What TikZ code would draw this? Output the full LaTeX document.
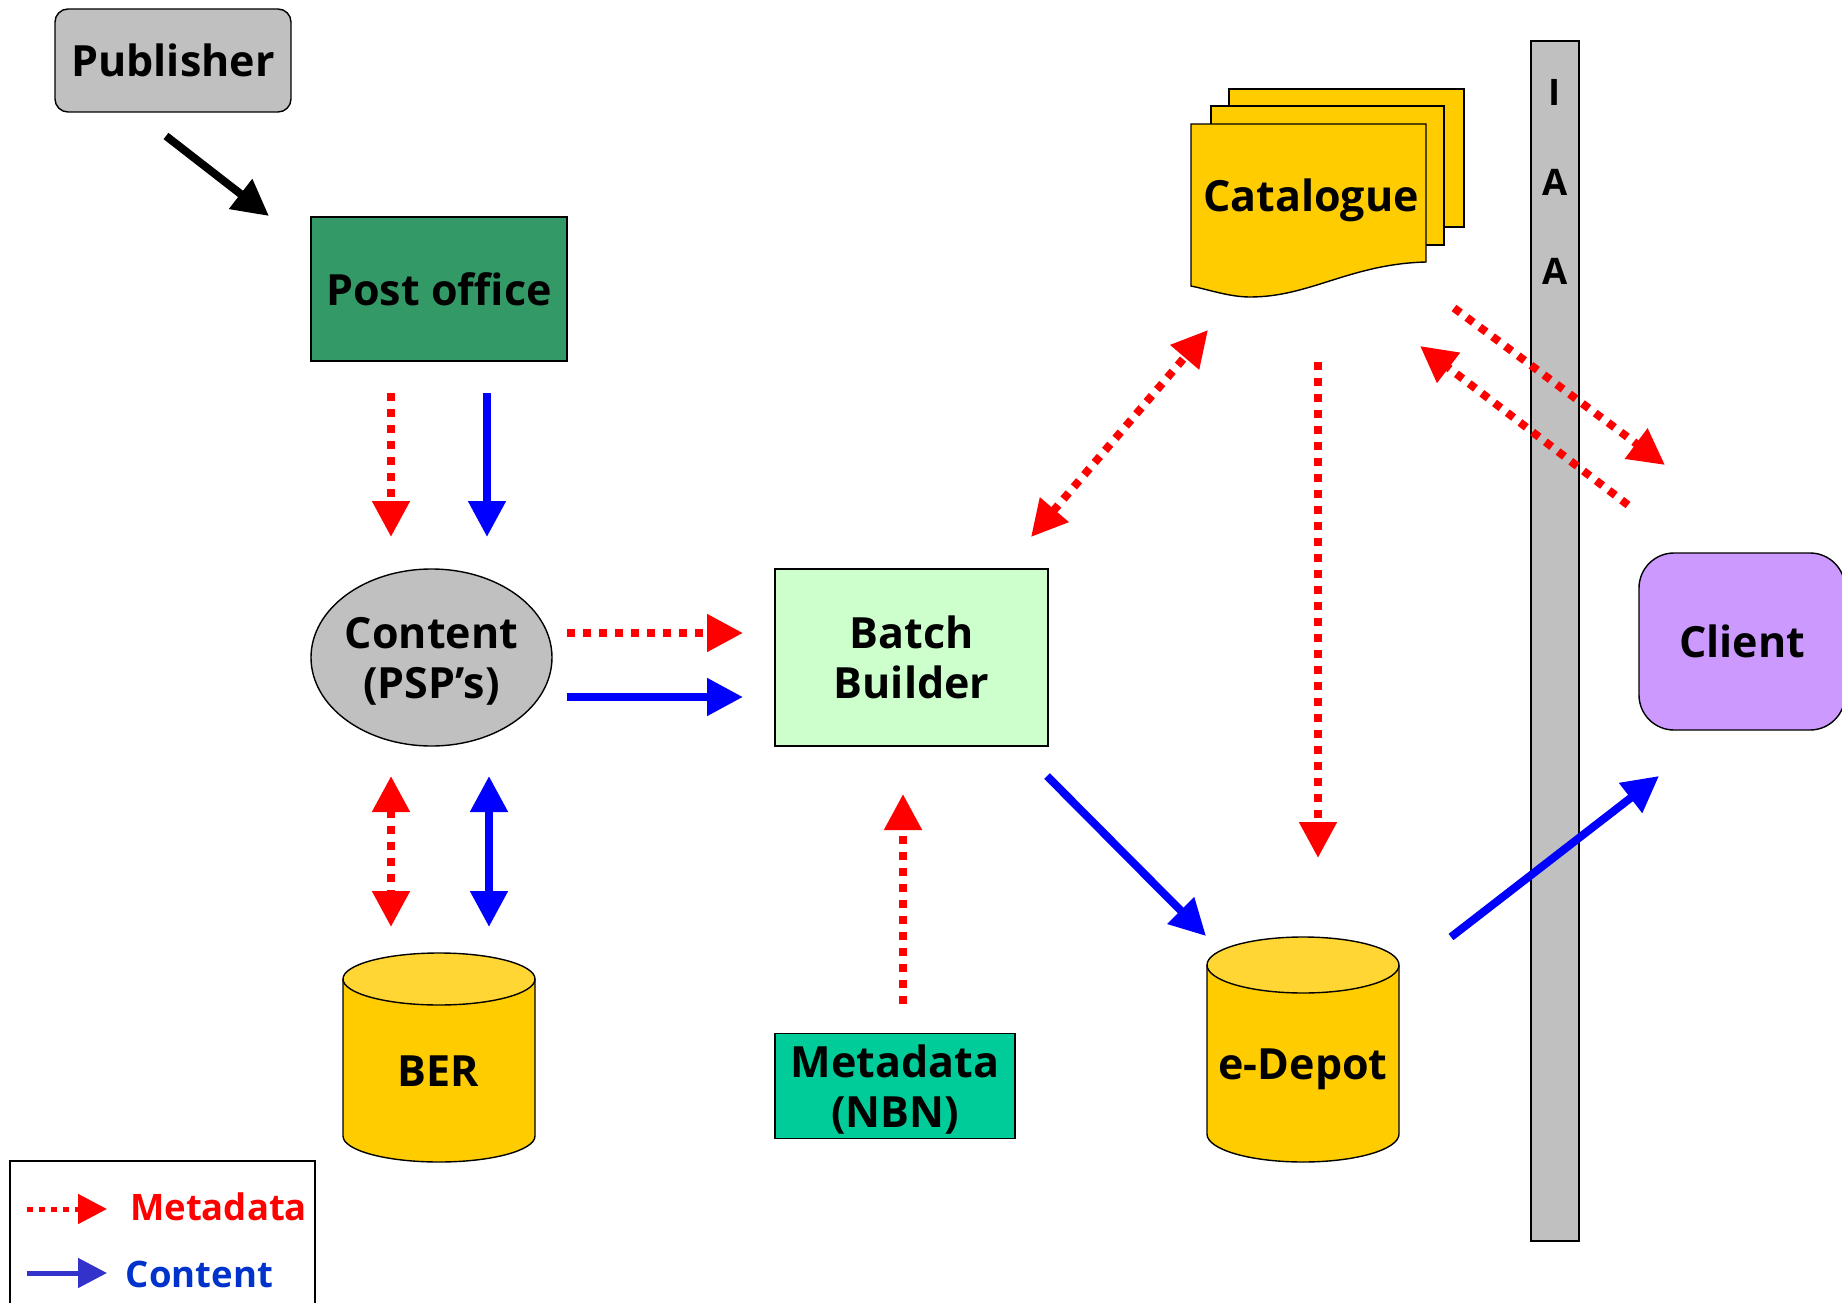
\documentclass[tikz,border=0pt]{standalone}
\usepackage{fontspec}
\setmainfont{Open Sans}
\usetikzlibrary{arrows.meta,shapes.geometric}
\definecolor{pubgrey}{HTML}{C0C0C0}
\definecolor{postgreen}{HTML}{339966}
\definecolor{batchgreen}{HTML}{CCFFCC}
\definecolor{nbngreen}{HTML}{00CC99}
\definecolor{clientpurple}{HTML}{CC99FF}
\definecolor{storeyellow}{HTML}{FFCC00}
\definecolor{storetop}{HTML}{FFD633}
\tikzset{
  lbl/.style={font=\fontsize{43}{50}\selectfont\bfseries,align=center,inner sep=0pt,text=black},
  smalllbl/.style={lbl,font=\fontsize{36.5}{40}\selectfont\bfseries},
  block/.style={lbl,draw=black,line width=1.4pt},
  page/.style={draw=black,line width=1.4pt,fill=storeyellow},
  tip/.style={>={Triangle[length=36pt,width=36pt]}},
  metaflow/.style={tip,draw=red,line width=8pt,dash pattern=on 8pt off 8pt},
  contentflow/.style={tip,draw=blue,line width=8pt},
  pushflow/.style={tip,draw=black,line width=8pt},
  legtip/.style={>={Triangle[length=29pt,width=29pt]}}
}
\begin{document}
\begin{tikzpicture}[x=1pt,y=-1pt]
  \useasboundingbox (0,0) rectangle (1842,1303);

  \node[block,fill=pubgrey,rounded corners=13pt,minimum width=236pt,minimum height=103pt] (PUB) at (173,60.5) {Publisher};
  \node[block,fill=postgreen,minimum width=256pt,minimum height=144pt] (POST) at (439,289) {Post office};
  \node[block,ellipse,fill=pubgrey,text depth=0pt,inner xsep=-2.5pt,minimum width=241pt,minimum height=177pt] (PSP) at (431.5,657.5) {Content\\(PSP’s)};
  \node[block,fill=batchgreen,minimum width=273pt,minimum height=177pt] (BATCH) at (911.5,657.5) {Batch\\Builder};
  \node[block,fill=nbngreen,text depth=0pt,minimum width=240pt,minimum height=105pt] (NBN) at (895,1086) {Metadata\\(NBN)};
  \node[block,fill=clientpurple,rounded corners=35pt,minimum width=206pt,minimum height=177pt] (CLIENT) at (1742,641.5) {Client};

  % cylinders
  \draw[page] (343,979) -- (343,1136) arc[start angle=180,end angle=0,x radius=96,y radius=26] -- (535,979);
  \draw[page,fill=storetop] (439,979) ellipse[x radius=96,y radius=26];
  \node[lbl] (BER) at (438,1071) {BER};
  \draw[page] (1207,965) -- (1207,1134) arc[start angle=180,end angle=0,x radius=96,y radius=28] -- (1399,965);
  \draw[page,fill=storetop] (1303,965) ellipse[x radius=96,y radius=28];
  \node[lbl] (DEPOT) at (1303,1069) {e-Depot};

  % wall with its letters
  \node[block,fill=pubgrey,minimum width=48pt,minimum height=1200pt] (WALL) at (1555,641) {};

  % catalogue pages
  \draw[page] (1229,227) |- (1464,89) |- cycle;
  \draw[page] (1211,245) |- (1444,106) |- cycle;
  \draw[page] (1191,286) -- (1191,124) -- (1426,124) -- (1426,262)
     .. controls (1350,264) and (1310,297) .. (1250,297)
     .. controls (1230,297) and (1210,290) .. (1191,286) -- cycle;
  \node[lbl] (CAT) at (1311,200) {Catalogue};

  % free ends of the flows
  \coordinate (a1) at (166,136);   \coordinate (a2) at (269,216);
  \coordinate (b1) at (391,393);   \coordinate (b2) at (391,537);
  \coordinate (c1) at (487,393);   \coordinate (c2) at (487,537);
  \coordinate (d1) at (567,633);   \coordinate (d2) at (743,633);
  \coordinate (e1) at (567,697);   \coordinate (e2) at (743,697);
  \coordinate (f1) at (391,776);   \coordinate (f2) at (391,927);
  \coordinate (g1) at (489,776);   \coordinate (g2) at (489,927);
  \coordinate (h1) at (903,1004);  \coordinate (h2) at (903,794);
  \coordinate (i1) at (1047,776);  \coordinate (i2) at (1206,936);
  \coordinate (j1) at (1031,537);  \coordinate (j2) at (1208,330);
  \coordinate (k1) at (1318,362);  \coordinate (k2) at (1318,858);
  \coordinate (l1) at (1454,308);  \coordinate (l2) at (1665,465);
  \coordinate (m1) at (1628,505);  \coordinate (m2) at (1420,346);
  \coordinate (n1) at (1451,937);  \coordinate (n2) at (1659,776);

  \draw[pushflow,->] (a1) -- (a2);
  \foreach \p/\q in {b1/b2,d1/d2,h1/h2,k1/k2,l1/l2,m1/m2} {
    \draw[metaflow,->] (\p) -- (\q);
  }
  \foreach \p/\q in {f1/f2,j1/j2} {
    \draw[metaflow,<->] (\p) -- (\q);
  }
  \foreach \p/\q in {c1/c2,e1/e2,i1/i2,n1/n2} {
    \draw[contentflow,->] (\p) -- (\q);
  }
  \draw[contentflow,<->] (g1) -- (g2);

  \node[smalllbl] (I1) at (1555,92) {I};
  \node[smalllbl] (A1) at (1555,182) {A};
  \node[smalllbl] (A2) at (1555,271) {A};

  % legend
  \node[draw=black,line width=1.4pt,minimum width=305pt,minimum height=160pt,inner sep=0pt] (LEG) at (162.5,1241) {};
  \coordinate (p1) at (27,1209);  \coordinate (p2) at (107,1209);
  \coordinate (q1) at (27,1273);  \coordinate (q2) at (107,1273);
  \draw[legtip,->,draw=red,line width=5pt,dash pattern=on 6pt off 6pt] (p1) -- (p2);
  \draw[legtip,->,draw={rgb,255:red,51;green,51;blue,204},line width=5pt] (q1) -- (q2);
  \node[smalllbl,text=red] (METALEG) at (218.5,1207) {Metadata};
  \node[smalllbl,text={rgb,255:red,0;green,51;blue,204}] (CONTLEG) at (199.5,1274) {Content};
\end{tikzpicture}
\end{document}
